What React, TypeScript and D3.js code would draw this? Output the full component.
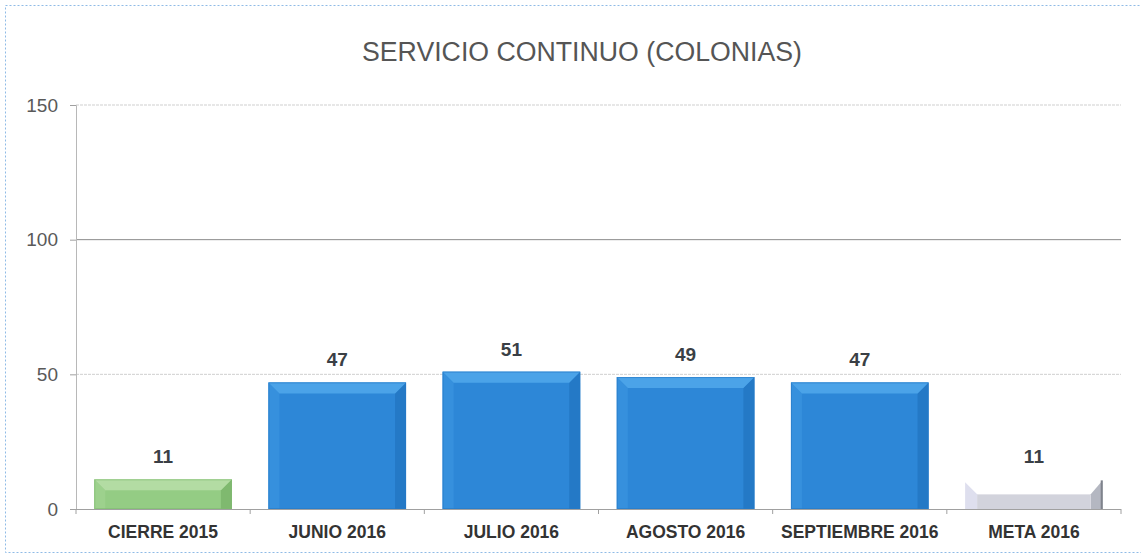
import * as d3 from "d3";
import React, { useRef, useEffect } from "react";

const categories = ["CIERRE 2015", "JUNIO 2016", "JULIO 2016", "AGOSTO 2016", "SEPTIEMBRE 2016", "META 2016"];
const values = [11, 47, 51, 49, 47, 11];
const yTicks = [0, 50, 100, 150];
const title = "SERVICIO CONTINUO (COLONIAS)";

const W = 1141;
const H = 557;

// colours per bar
const palette = (i) => {
  if (i === 0) return { face: "#94cc84", top: "#b3dca3", left: "#9dd18d", right: "#7fb96f", hollow: false };
  if (i === 5) return { face: "#ffffff", top: "#ffffff", left: "#dedfee", right: "#7f838c", bottom: "#d2d3dc", hollow: true };
  return { face: "#2d87d7", top: "#4ba3e8", left: "#3690dd", right: "#2479c6", hollow: false };
};

function App() {
  const ref = useRef();

  useEffect(() => {
    const svg = d3.select(ref.current);
    svg.selectAll("*").remove();

    const left = 76, right = 1121, top = 105, bottom = 509;
    const font = "Liberation Sans, Arial, sans-serif";

    // outer border
    svg.append("rect")
      .attr("x", 5.5).attr("y", 5.5)
      .attr("width", W - 4).attr("height", H - 10)
      .attr("fill", "white")
      .attr("stroke", "#8fbbe6")
      .attr("stroke-dasharray", "2,2");

    svg.append("text")
      .attr("x", 582).attr("y", 61)
      .attr("text-anchor", "middle")
      .attr("font-family", font)
      .attr("font-size", 27)
      .attr("fill", "#555")
      .attr("textLength", 440)
      .attr("lengthAdjust", "spacingAndGlyphs")
      .text(title);

    const x = d3.scaleBand().domain(categories).range([left, right]).paddingInner(0.21).paddingOuter(0.105);
    const y = d3.scaleLinear().domain([0, 150]).range([bottom, top]);

    const g = svg.append("g");

    // gridlines
    g.selectAll(".grid")
      .data(yTicks.slice(1))
      .enter()
      .append("line")
      .attr("x1", left).attr("x2", right)
      .attr("y1", (d) => y(d)).attr("y2", (d) => y(d))
      .attr("stroke", (d) => (d === 100 ? "#8a8a8a" : "#cfcfcf"))
      .attr("stroke-dasharray", (d) => (d === 100 ? null : "3,1"))
      .attr("stroke-width", 1);

    // y axis
    const yAxis = d3.axisLeft(y).tickValues(yTicks).tickSize(6).tickPadding(12);
    const ya = svg.append("g").attr("transform", `translate(${left},0)`).call(yAxis);
    ya.select(".domain").attr("stroke", "#b8b8b8");
    ya.selectAll(".tick line").attr("stroke", "#a0a0a0");
    ya.selectAll(".tick text")
      .attr("font-family", font)
      .attr("font-size", 19)
      .attr("fill", "#595959");

    // bars with bevel
    const bev = 11;
    categories.forEach((c, i) => {
      const v = values[i];
      const x0 = x(c), x1 = x0 + x.bandwidth();
      const y0 = y(v), y1 = y(0);
      const p = palette(i);
      const bg = g.append("g");
      const b = Math.min(bev, (y1 - y0) / 2.5);
      if (!p.hollow) {
        bg.append("rect").attr("x", x0).attr("y", y0).attr("width", x1 - x0).attr("height", y1 - y0).attr("fill", p.face);
        bg.append("polygon").attr("points", [[x0, y0], [x0 + b, y0 + b], [x0 + b, y1], [x0, y1]].join(" ")).attr("fill", p.left);
        bg.append("polygon").attr("points", [[x1, y0], [x1, y1], [x1 - b, y1], [x1 - b, y0 + b]].join(" ")).attr("fill", p.right);
        bg.append("polygon").attr("points", [[x0, y0], [x1, y0], [x1 - b, y0 + b], [x0 + b, y0 + b]].join(" ")).attr("fill", p.top);
        bg.append("rect").attr("x", x0 + 0.5).attr("y", y0 + 0.5).attr("width", x1 - x0 - 1).attr("height", y1 - y0 - 1)
          .attr("fill", "none").attr("stroke", p.right).attr("stroke-opacity", 0.6);
      } else {
        const yb = y0 + 15;
        bg.append("polygon").attr("points", [[x0, y0 + 3], [x0 + 12, yb], [x0 + 12, y1], [x0, y1]].join(" ")).attr("fill", p.left);
        bg.append("polygon").attr("points", [[x1, y0 + 1], [x1 - 12, yb], [x1 - 12, y1], [x1, y1]].join(" ")).attr("fill", "#b4b7c1");
        bg.append("rect").attr("x", x0 + 12).attr("y", yb).attr("width", x1 - x0 - 24).attr("height", y1 - yb).attr("fill", p.bottom);
        bg.append("line").attr("x1", x1 - 1).attr("x2", x1 - 1).attr("y1", y0 + 1).attr("y2", y1).attr("stroke", p.right).attr("stroke-width", 2);
      }
      g.append("text")
        .attr("x", x0 + x.bandwidth() / 2)
        .attr("y", y0 - 16)
        .attr("text-anchor", "middle")
        .attr("font-family", font)
        .attr("font-weight", "bold")
        .attr("font-size", 19)
        .attr("fill", "#3a3f45")
        .text(v);
    });

    // x axis
    const xa = svg.append("g").attr("transform", `translate(0,${bottom})`);
    xa.append("line").attr("x1", left - 6).attr("x2", right).attr("y1", 0.5).attr("y2", 0.5).attr("stroke", "#a0a0a0");
    d3.range(categories.length + 1).forEach((k) => {
      const xx = left + k * ((right - left) / categories.length);
      xa.append("line").attr("x1", xx).attr("x2", xx).attr("y1", 0).attr("y2", 5).attr("stroke", "#a0a0a0");
    });
    xa.selectAll(".lab")
      .data(categories)
      .enter()
      .append("text")
      .attr("x", (d) => x(d) + x.bandwidth() / 2)
      .attr("y", 29)
      .attr("text-anchor", "middle")
      .attr("font-family", font)
      .attr("font-weight", "bold")
      .attr("font-size", 17.5)
      .attr("fill", "#333")
      .text((d) => d);
  }, []);

  return (
    <div style={{ position: "absolute", left: 0, top: 0 }}>
      <svg ref={ref} width={W} height={H} style={{ display: "block" }}></svg>
    </div>
  );
}

export default App;
